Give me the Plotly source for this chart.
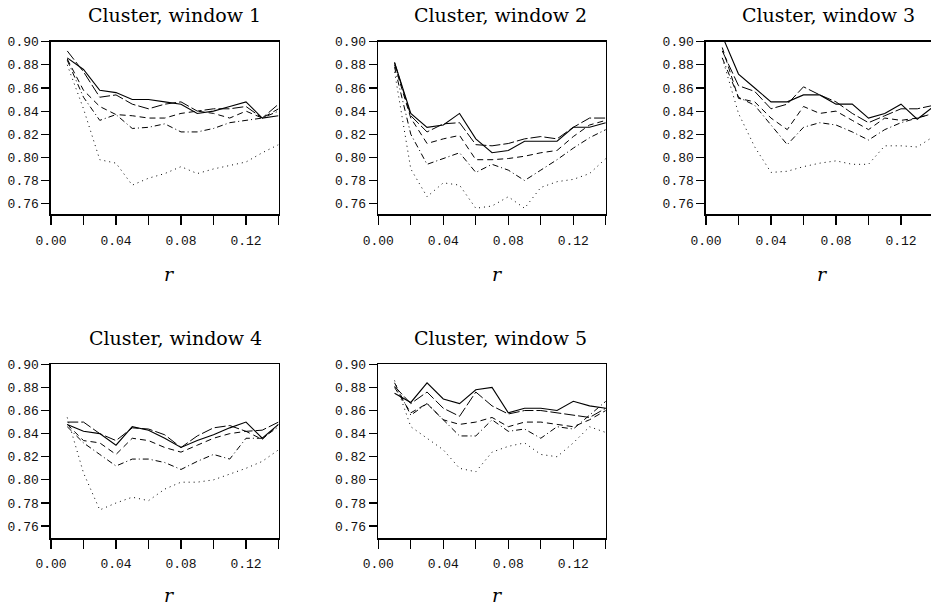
import plotly.graph_objects as go

W, H = 931, 606

# x values (r)
R = [0.01, 0.02, 0.03, 0.04, 0.05, 0.06, 0.07, 0.08, 0.09, 0.10, 0.11, 0.12, 0.13, 0.14]

X_TICKS = [0.00, 0.02, 0.04, 0.06, 0.08, 0.10, 0.12, 0.14]
X_TICK_TEXT = ["0.00", "", "0.04", "", "0.08", "", "0.12", ""]
Y_TICKS = [0.76, 0.78, 0.80, 0.82, 0.84, 0.86, 0.88, 0.90]
Y_TICK_TEXT = ["0.76", "0.78", "0.80", "0.82", "0.84", "0.86", "0.88", "0.90"]

TITLES = ["Cluster, window 1", "Cluster, window 2", "Cluster, window 3",
          "Cluster, window 4", "Cluster, window 5"]

# window 1
w1_solid    = [0.886, 0.876, 0.858, 0.856, 0.850, 0.850, 0.848, 0.846, 0.838, 0.840, 0.844, 0.848, 0.834, 0.836]
w1_longdash = [0.892, 0.874, 0.852, 0.854, 0.846, 0.842, 0.846, 0.848, 0.840, 0.842, 0.842, 0.844, 0.834, 0.846]
w1_dash     = [0.885, 0.858, 0.844, 0.837, 0.836, 0.834, 0.834, 0.838, 0.840, 0.838, 0.834, 0.840, 0.834, 0.842]
w1_dashdot  = [0.884, 0.852, 0.832, 0.837, 0.825, 0.826, 0.829, 0.822, 0.822, 0.825, 0.830, 0.832, 0.834, 0.840]
w1_dot      = [0.880, 0.842, 0.798, 0.795, 0.776, 0.782, 0.786, 0.792, 0.786, 0.790, 0.793, 0.796, 0.804, 0.811]

# window 2
w2_solid    = [0.882, 0.838, 0.826, 0.828, 0.838, 0.816, 0.804, 0.806, 0.814, 0.814, 0.814, 0.826, 0.826, 0.830]
w2_longdash = [0.882, 0.836, 0.822, 0.829, 0.830, 0.811, 0.810, 0.812, 0.816, 0.818, 0.816, 0.826, 0.834, 0.834]
w2_dash     = [0.880, 0.834, 0.812, 0.816, 0.819, 0.798, 0.798, 0.799, 0.801, 0.804, 0.806, 0.818, 0.828, 0.832]
w2_dashdot  = [0.878, 0.820, 0.794, 0.799, 0.804, 0.787, 0.794, 0.789, 0.780, 0.789, 0.798, 0.808, 0.817, 0.824]
w2_dot      = [0.874, 0.790, 0.766, 0.778, 0.776, 0.756, 0.758, 0.766, 0.756, 0.774, 0.779, 0.781, 0.786, 0.799]

# window 3
w3_solid    = [0.905, 0.872, 0.860, 0.848, 0.848, 0.854, 0.854, 0.846, 0.846, 0.834, 0.838, 0.846, 0.833, 0.844]
w3_longdash = [0.892, 0.862, 0.857, 0.842, 0.846, 0.861, 0.854, 0.848, 0.838, 0.830, 0.836, 0.842, 0.842, 0.845]
w3_dash     = [0.895, 0.851, 0.848, 0.834, 0.824, 0.844, 0.838, 0.840, 0.832, 0.824, 0.834, 0.832, 0.834, 0.838]
w3_dashdot  = [0.886, 0.852, 0.845, 0.828, 0.811, 0.826, 0.830, 0.828, 0.822, 0.815, 0.824, 0.830, 0.834, 0.838]
w3_dot      = [0.886, 0.838, 0.809, 0.787, 0.788, 0.792, 0.795, 0.797, 0.794, 0.794, 0.810, 0.810, 0.809, 0.818]

# window 4
w4_solid    = [0.848, 0.842, 0.840, 0.830, 0.846, 0.843, 0.836, 0.828, 0.834, 0.839, 0.845, 0.850, 0.836, 0.848]
w4_longdash = [0.850, 0.850, 0.840, 0.834, 0.845, 0.844, 0.839, 0.828, 0.838, 0.845, 0.847, 0.842, 0.843, 0.850]
w4_dash     = [0.848, 0.834, 0.832, 0.822, 0.836, 0.834, 0.828, 0.824, 0.830, 0.836, 0.840, 0.842, 0.835, 0.848]
w4_dashdot  = [0.846, 0.832, 0.822, 0.812, 0.818, 0.818, 0.815, 0.809, 0.816, 0.822, 0.818, 0.836, 0.836, 0.846]
w4_dot      = [0.854, 0.806, 0.774, 0.780, 0.785, 0.782, 0.792, 0.798, 0.798, 0.800, 0.805, 0.810, 0.816, 0.826]

# window 5
w5_solid    = [0.875, 0.867, 0.884, 0.870, 0.866, 0.878, 0.880, 0.858, 0.862, 0.862, 0.860, 0.868, 0.864, 0.862]
w5_longdash = [0.881, 0.866, 0.876, 0.862, 0.855, 0.876, 0.864, 0.857, 0.860, 0.860, 0.858, 0.856, 0.854, 0.862]
w5_dash     = [0.880, 0.858, 0.866, 0.852, 0.848, 0.850, 0.854, 0.846, 0.850, 0.850, 0.848, 0.846, 0.852, 0.860]
w5_dashdot  = [0.884, 0.856, 0.866, 0.852, 0.838, 0.838, 0.852, 0.842, 0.844, 0.836, 0.846, 0.844, 0.856, 0.868]
w5_dot      = [0.886, 0.846, 0.836, 0.826, 0.810, 0.807, 0.824, 0.829, 0.832, 0.822, 0.820, 0.832, 0.846, 0.841]

WINDOWS = [
    [w1_solid, w1_longdash, w1_dash, w1_dashdot, w1_dot],
    [w2_solid, w2_longdash, w2_dash, w2_dashdot, w2_dot],
    [w3_solid, w3_longdash, w3_dash, w3_dashdot, w3_dot],
    [w4_solid, w4_longdash, w4_dash, w4_dashdot, w4_dot],
    [w5_solid, w5_longdash, w5_dash, w5_dashdot, w5_dot],
]
DASHES = ["solid", "11px,3px", "6px,4px", "6px,3px,1px,3px", "1px,4px"]
WIDTHS = [1.1, 1.0, 1.0, 1.0, 1.0]

# panel geometry in pixels: (left, right, top, bottom)
PW = 227.5
PANELS = [
    (51.0, 51.0 + PW, 41.7, 214.3),
    (378.3, 378.3 + PW, 41.7, 214.3),
    (706.0, 706.0 + PW, 41.7, 214.3),
    (51.0, 51.0 + PW, 364.3, 538.0),
    (378.3, 378.3 + PW, 364.3, 538.0),
]
YMIN = [0.7508, 0.7508, 0.7508, 0.7497, 0.7497]
TITLE_POS = [(174, 15), (500, 15), (828, 15), (175, 338), (500, 338)]
RLAB_POS = [(169, 274), (497, 274), (822, 274), (169, 595), (497, 595)]

fig = go.Figure()
layout = dict(width=W, height=H, margin=dict(l=0, r=0, t=0, b=0, autoexpand=False),
              paper_bgcolor="white", plot_bgcolor="white", showlegend=False)

tick_font = dict(family="Liberation Mono, Courier New, monospace", size=13, color="#111")
annotations = []
for i, (l, rr, t, b) in enumerate(PANELS):
    n = "" if i == 0 else str(i + 1)
    xa, ya = "x" + n, "y" + n
    right = min(rr, W)
    xmax = 0.14 * (right - l) / PW
    for s, series in enumerate(WINDOWS[i]):
        fig.add_trace(go.Scatter(x=R, y=series, mode="lines", xaxis=xa, yaxis=ya,
                                 line=dict(color="black", width=WIDTHS[s], dash=DASHES[s]),
                                 hoverinfo="skip"))
    layout["xaxis" + n] = dict(domain=[l / W, right / W], range=[0, xmax], anchor=ya,
                               tickmode="array", tickvals=X_TICKS, ticktext=X_TICK_TEXT,
                               ticks="outside", ticklen=9, tickwidth=1.2, tickcolor="black",
                               showline=True, linecolor="black", linewidth=1.6,
                               mirror=True, showgrid=False, zeroline=False, automargin=False,
                               tickfont=tick_font, ticklabelstandoff=4)
    layout["yaxis" + n] = dict(domain=[1 - b / H, 1 - t / H], range=[YMIN[i], 0.90], anchor=xa,
                               tickmode="array", tickvals=Y_TICKS, ticktext=Y_TICK_TEXT,
                               ticks="outside", ticklen=8, tickwidth=1.2, tickcolor="black",
                               showline=True, linecolor="black", linewidth=1.6,
                               mirror=(i != 2), showgrid=False, zeroline=False, automargin=False,
                               tickfont=tick_font)
    tx, ty = TITLE_POS[i]
    annotations.append(dict(text=TITLES[i], x=tx / W, y=1 - ty / H, xref="paper", yref="paper",
                            xanchor="center", yanchor="middle", showarrow=False,
                            font=dict(family="DejaVu Serif, serif", size=19, color="black")))
    rx, ry = RLAB_POS[i]
    annotations.append(dict(text="<i>r</i>", x=rx / W, y=1 - ry / H, xref="paper", yref="paper",
                            xanchor="center", yanchor="middle", showarrow=False,
                            font=dict(family="DejaVu Serif, serif", size=19, color="black")))

layout["annotations"] = annotations
fig.update_layout(**layout)
fig.write_html("out.html", config={"displayModeBar": False, "staticPlot": True},
               post_script="document.body.style.margin='0';document.body.style.overflow='hidden';")
